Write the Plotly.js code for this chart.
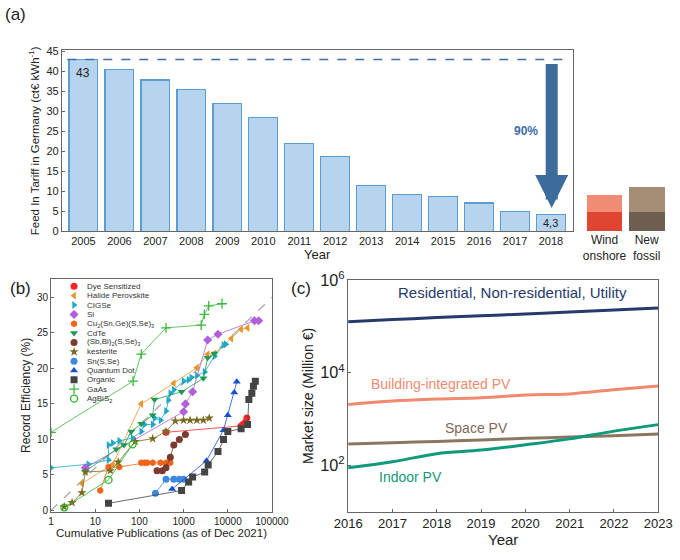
<!DOCTYPE html>
<html><head><meta charset="utf-8">
<script src="https://cdn.plot.ly/plotly-3.0.1.min.js"></script>
<style>body{margin:0;background:#fff}#chart{width:680px;height:560px}</style>
</head><body><div id="chart"></div>
<script>
// (a) feed-in tariff
const years = ["2005","2006","2007","2008","2009","2010","2011","2012","2013","2014","2015","2016","2017","2018"];
const tariff = [43,40.6,37.9,35.5,32,28.4,21.9,18.7,11.5,9.3,8.8,7.1,5,4.3];
const compCats = ["Wind<br>onshore", "New<br>fossil"];
const compLow = [4.8, 4.8];
const compHigh = [4.2, 6.3];

// (b) record efficiency vs publications
const techNames = ["Dye Sensitized","Halide Perovskite","CIGSe","Si","Cu<sub>2</sub>(Sn,Ge)(S,Se)<sub>3</sub>","CdTe","(Sb,Bi)<sub>2</sub>(S,Se)<sub>3</sub>","kesterite","Sn(S,Se)","Quantum Dot","Organic","GaAs","AgBiS<sub>2</sub>"];
const techColors = ["#f02828","#e8962a","#20a8c8","#b060d8","#f06418","#1c9a50","#7a3a30","#7a6a20","#3c8ae0","#1450d0","#444444","#38b838","#28b828"];
const techSymbols = ["circle","triangle-left","triangle-right","diamond","hexagon","triangle-down","circle","star","circle","triangle-up","square","cross-thin","circle-open"];
const pubs = [
  [400,20000,22000,25000,27000],
  [5,25,110,600,2000,3500,5000,12000,20000,28000],
  [1,7,20,20,25,35,70,110,130,200,220,300,400,450,500,600,1000,1300,1500,2000,3000,5000,8000,9000],
  [6,1000,1100,1600,3500,6000,40000,50000],
  [13,20,35,110,130,150,200,300,400,450,500],
  [6,30,45,65,110,200,220,900,2800,3500,5000],
  [250,330,400,500,600,800,1100],
  [2,3,5,6,22,33,80,200,400,650,1000,1400,2000,2800,3800],
  [230,400,600,800,1000],
  [550,3300,8000,10000,14000,16000],
  [20,900,1300,1600,3000,3600,6000,8000,10000,20000,28000,30000,35000,38000,42000],
  [1,72,110,400,2500,2950,3700,7400],
  [2,20,70]
];
const effs = [
  [11,11.9,12.1,12.4,13],
  [3.8,6.5,15,17.9,20.1,22,22.1,24.2,25.5,25.7],
  [6,6.5,7.1,9.2,9.5,9.8,10.2,11.1,12.1,12.1,13,12.7,14,15.5,16.5,17,18.2,18.4,18.7,19,19.5,21.7,23.3,23.4],
  [6,13.9,15,16.7,24,24.8,26.7,26.7],
  [2.8,6.1,6.1,6.7,6.7,6.7,6.7,6.7,6.7,6.7,6.7],
  [5.5,8.6,9.2,11.1,12.2,13.4,15.6,16.7,18.6,21.5,22.1],
  [5.6,5.6,6,7.5,9.2,10,10.7],
  [0.5,1.1,2.5,5.4,5.6,6.8,9.7,10.1,11.1,12.6,12.7,12.7,12.7,12.7,13],
  [2.4,4.4,4.4,4.4,4.4],
  [3,7,11.3,13.4,16.6,18.1],
  [1,2.8,4,4.7,5.4,6.4,8.3,10,11.1,11.5,12.1,15.6,16.5,17.5,18.2],
  [11,18.2,22,25.7,26.1,27.6,28.8,29.1],
  [0.4,4.3,9.3]
];
const trendX = [1, 100000];
const trendY = [0, 30];
const pubTicks = [1,10,100,1000,10000,100000];

// (c) market size
const mYears = [2016,2017,2018,2019,2020,2021,2022,2023];
const resid = [126000,140000,155000,170000,185000,205000,225000,250000];
const bipv = [2070,2450,2700,2900,3300,3500,4300,5200];
const space = [290,310,330,355,385,410,440,480];
const indoor = [89,120,180,215,280,375,550,760];

const F = "Liberation Sans, Arial, sans-serif";
const traces = [];
traces.push({type:"bar", x:years, y:tariff, xaxis:"x", yaxis:"y", width:0.8,
  marker:{color:"#b7d4ee", line:{color:"#5d9bd3", width:1.2}}, showlegend:false, hoverinfo:"skip"});
traces.push({type:"bar", x:compCats, y:compLow, xaxis:"x2", yaxis:"y2", width:0.85,
  marker:{color:["#e04532","#6e5e50"]}, showlegend:false});
traces.push({type:"bar", x:compCats, y:compHigh, xaxis:"x2", yaxis:"y2", width:0.85,
  marker:{color:["#f08c74","#a68d76"]}, showlegend:false});

traces.push({type:"scatter", mode:"lines", x:trendX, y:trendY, xaxis:"x3", yaxis:"y3",
  line:{color:"#b0b0b0", width:1.5, dash:"dash"}, showlegend:false});
const mline = (i) => ({color:techColors[i], width: techSymbols[i]==="circle-open"||techSymbols[i]==="cross-thin"?1.3:0});
techNames.forEach((n, i) => {
  traces.push({type:"scatter", mode:"lines+markers", x:pubs[i], y:effs[i], xaxis:"x3", yaxis:"y3",
    line:{color:techColors[i], width:0.8}, showlegend:false,
    marker:{symbol:techSymbols[i], color:techColors[i], size:7, line:mline(i)}});
});
// compact legend for (b) on its own hidden axis
const legIdx = techNames.map((_, i) => i);
traces.push({type:"scatter", mode:"markers", x:legIdx.map(() => 0), y:legIdx, xaxis:"x5", yaxis:"y5",
  showlegend:false, marker:{symbol:techSymbols, color:techColors, size:7,
  line:{color:techColors, width:techSymbols.map(s => s==="circle-open"||s==="cross-thin"?1.3:0)}}});

const mk = (y, c) => ({type:"scatter", mode:"lines", x:mYears, y:y, xaxis:"x4", yaxis:"y4",
  line:{color:c, width:3, shape:"spline"}, showlegend:false});
traces.push(mk(resid,"#263a6e"), mk(bipv,"#ef8a6e"), mk(space,"#8b7660"), mk(indoor,"#0f9a7a"));

const ax = {showline:true, mirror:true, linecolor:"#666", linewidth:1, ticks:"inside", ticklen:3,
  tickcolor:"#666", zeroline:false, showgrid:false, tickfont:{family:F, size:11, color:"#222"}};

const legendAnns = techNames.map((n, i) => ({text:n, xref:"x5", yref:"y5", x:0.35, y:i, xanchor:"left",
  showarrow:false, font:{size:8, color:"#333"}}));

const layout = {
  width:680, height:560, margin:{l:0,r:0,t:0,b:0}, paper_bgcolor:"#fff", plot_bgcolor:"rgba(0,0,0,0)",
  font:{family:F, color:"#222"}, barmode:"stack", showlegend:false,
  xaxis:{...ax, domain:[0.091,0.842], anchor:"y", type:"category", ticks:"", range:[-0.6,13.6],
    title:{text:"Year", font:{size:13}, standoff:2}},
  yaxis:{...ax, domain:[0.587,0.91], anchor:"x", range:[0,45.3], dtick:5,
    title:{text:"Feed In Tariff in Germany (ct€ kWh<sup>-1</sup>)", font:{size:11.5}, standoff:4}},
  xaxis2:{domain:[0.855,0.985], anchor:"y2", range:[-0.55,1.55], showline:false, ticks:"",
    tickfont:{family:F, size:12, color:"#222"}},
  yaxis2:{domain:[0.587,0.91], anchor:"x2", range:[0,45.3], visible:false},
  xaxis3:{...ax, domain:[0.075,0.4], anchor:"y3", type:"log", range:[0,5],
    tickvals:pubTicks, ticktext:pubTicks.map(String), tickfont:{family:F, size:10, color:"#222"},
    title:{text:"Cumulative Publications (as of Dec 2021)", font:{size:11.5}, standoff:2}},
  yaxis3:{...ax, domain:[0.086,0.502], anchor:"x3", range:[-0.2,32.6], dtick:5,
    tickfont:{family:F, size:10, color:"#222"},
    title:{text:"Record Efficiency (%)", font:{size:12}, standoff:3}},
  xaxis4:{...ax, domain:[0.512,0.968], anchor:"y4", range:[2016,2023], dtick:1,
    tickfont:{family:F, size:13, color:"#222"},
    title:{text:"Year", font:{size:15}, standoff:3}},
  yaxis4:{...ax, domain:[0.086,0.5], anchor:"x4", type:"log", range:[1,6], dtick:2,
    exponentformat:"power", tickfont:{family:F, size:13, color:"#222"},
    title:{text:"Market size (Million €)", font:{size:14}, standoff:3}},
  xaxis5:{domain:[0.085,0.3], anchor:"y5", range:[-0.5,4], visible:false},
  yaxis5:{domain:[0.28,0.497], anchor:"x5", range:[12.5,-0.5], visible:false},
  shapes:[
    {type:"line", xref:"x", yref:"y", x0:-0.45, x1:13.45, y0:43, y1:43, line:{color:"#3d6ea8", width:1.5, dash:"dash"}}
  ],
  annotations:[
    {text:"(a)", xref:"paper", yref:"paper", x:0.005, y:0.995, xanchor:"left", yanchor:"top", showarrow:false, font:{size:17}},
    {text:"(b)", xref:"paper", yref:"paper", x:0.012, y:0.505, xanchor:"left", yanchor:"top", showarrow:false, font:{size:17}},
    {text:"(c)", xref:"paper", yref:"paper", x:0.425, y:0.505, xanchor:"left", yanchor:"top", showarrow:false, font:{size:17}},
    {text:"43", xref:"x", yref:"y", x:0, y:41.8, yanchor:"top", showarrow:false, font:{size:12}},
    {text:"4,3", xref:"x", yref:"y", x:13, y:2.1, showarrow:false, font:{size:11}},
    {text:"<b>90%</b>", xref:"x", yref:"y", x:12.3, y:25, showarrow:false, font:{size:12, color:"#3a6ea8"}},
    {text:"", xref:"x", yref:"y", axref:"x", ayref:"y", x:13.02, y:5.8, ax:13.02, ay:42.3, showarrow:true,
      arrowhead:2, arrowsize:0.55, arrowwidth:12, arrowcolor:"#3c6b9c"},
    {text:"Residential, Non-residential, Utility", xref:"x4", yref:"y4", x:2019.7, y:5.72, showarrow:false, font:{size:15, color:"#263a6e"}},
    {text:"Building-integrated PV", xref:"x4", yref:"y4", x:2018.1, y:3.75, showarrow:false, font:{size:14, color:"#ef8a6e"}},
    {text:"Space PV", xref:"x4", yref:"y4", x:2018.9, y:2.8, showarrow:false, font:{size:14, color:"#7d6a56"}},
    {text:"Indoor PV", xref:"x4", yref:"y4", x:2017.4, y:1.75, showarrow:false, font:{size:14, color:"#0f9a7a"}},
    ...legendAnns
  ]
};
Plotly.newPlot("chart", traces, layout, {staticPlot:true});
</script></body></html>
